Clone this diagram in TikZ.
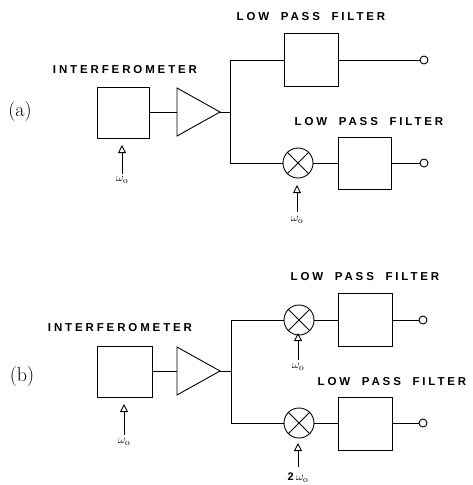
\documentclass[tikz,border=0pt]{standalone}
\usepackage{fontspec}
\usetikzlibrary{arrows.meta}
\newfontfamily\labfont[LetterSpace=25]{Liberation Sans Bold}
\newfontfamily\numfont{Liberation Sans Bold}
\newcommand{\lpftext}{LOW\hspace{5.5pt} PASS\hspace{5.5pt} FILTER}
\begin{document}
\begin{tikzpicture}[x=1pt,y=-1pt,line width=0.9pt,
  blk/.style={draw,rectangle,inner sep=0pt,minimum width=54pt,minimum height=53pt},
  mix/.style={draw,circle,inner sep=0pt,minimum size=30pt},
  term/.style={draw,circle,inner sep=0pt,minimum size=8pt,fill=white},
  lab/.style={inner sep=0pt,font=\fontsize{11.5}{12}\labfont},
  wlab/.style={inner sep=0pt,font=\fontsize{13}{13}\selectfont},
  part/.style={inner sep=0pt,font=\fontsize{20}{20}\selectfont},
  inarrow/.style={-{Triangle[open,length=8pt,width=8pt]},line width=0.9pt}]
\useasboundingbox (0,0) rectangle (472,485);
% ---------------- (a) ----------------
\node[part] (pa) at (20,112) {(a)};
\node[lab] (ia) at (125,70) {INTERFEROMETER};
\node[blk,minimum width=52pt,minimum height=51pt] (inta) at (123,112.5) {};
\coordinate (ampaL) at (177,112);
\coordinate (ampaT) at (220,112);
\draw (177,88) -- (ampaT) -- (177,136) -- cycle;
\draw (inta.east |- ampaL) -- (ampaL);
\coordinate (ja) at (230,112);
\coordinate (jat) at (230,60);
\coordinate (jab) at (230,163);
\draw (ampaT) -- (ja);
\draw (jat) -- (jab);
\node[lab] (la1) at (311,17) {\lpftext};
\node[blk] (lpfa1) at (311,60) {};
\node[term] (oa1) at (424,60) {};
\draw (jat) -- (lpfa1.west);
\draw (lpfa1.east) -- (oa1);
\node[lab] (la2) at (369,122) {\lpftext};
\node[mix] (ma) at (298,163) {};
\draw (ma.45) -- (ma.225) (ma.135) -- (ma.315);
\node[blk,minimum width=53pt,minimum height=52pt] (lpfa2) at (364.5,163.5) {};
\node[term] (oa2) at (424,163) {};
\draw (jab) -- (ma);
\draw (ma) -- (lpfa2.west |- ma);
\draw (lpfa2.east |- oa2) -- (oa2);
\node[wlab] (wa1) at (122,180) {$\omega_{\mathrm{o}}$};
\draw[inarrow] (wa1.north) ++(0,-2) -- (122,145);
\node[wlab] (wa2) at (297,220) {$\omega_{\mathrm{o}}$};
\draw[inarrow] (wa2.north) ++(0,-4) -- (297,185);
% ---------------- (b) ----------------
\node[part] (pb) at (22,377) {(b)};
\node[lab] (ib) at (120,328) {INTERFEROMETER};
\node[blk,minimum width=55pt,minimum height=51pt] (intb) at (124.5,371.5) {};
\coordinate (ampbL) at (177,371);
\coordinate (ampbT) at (220,371);
\draw (177,347) -- (ampbT) -- (177,395) -- cycle;
\draw (intb.east |- ampbL) -- (ampbL);
\coordinate (jb) at (231,371);
\coordinate (jbt) at (231,320);
\coordinate (jbb) at (231,423);
\draw (ampbT) -- (jb);
\draw (jbt) -- (jbb);
\node[lab] (lb1) at (365,277) {\lpftext};
\node[mix] (mb1) at (299,320) {};
\draw (mb1.45) -- (mb1.225) (mb1.135) -- (mb1.315);
\node[blk] (lpfb1) at (365,320) {};
\node[term] (ob1) at (423,320) {};
\draw (jbt) -- (mb1);
\draw (mb1) -- (lpfb1.west);
\draw (lpfb1.east) -- (ob1);
\node[lab] (lb2) at (392,382) {\lpftext};
\node[mix] (mb2) at (299,423) {};
\draw (mb2.45) -- (mb2.225) (mb2.135) -- (mb2.315);
\node[blk] (lpfb2) at (365,423.5) {};
\node[term] (ob2) at (423,423) {};
\draw (jbb) -- (mb2);
\draw (mb2) -- (lpfb2.west |- mb2);
\draw (lpfb2.east |- ob2) -- (ob2);
\node[wlab] (wb1) at (124,442) {$\omega_{\mathrm{o}}$};
\draw[inarrow] (wb1.north) ++(0,-3) -- (124,404);
\node[wlab] (wb2) at (298,367) {$\omega_{\mathrm{o}}$};
\draw[inarrow] (wb2.north) ++(0,-3) -- (298,333);
\node[wlab] (wb3) at (298,478) {{\numfont\fontsize{11}{11}\selectfont 2}\,$\omega_{\mathrm{o}}$};
\draw[inarrow] (298,467) -- (298,443);
\end{tikzpicture}
\end{document}
